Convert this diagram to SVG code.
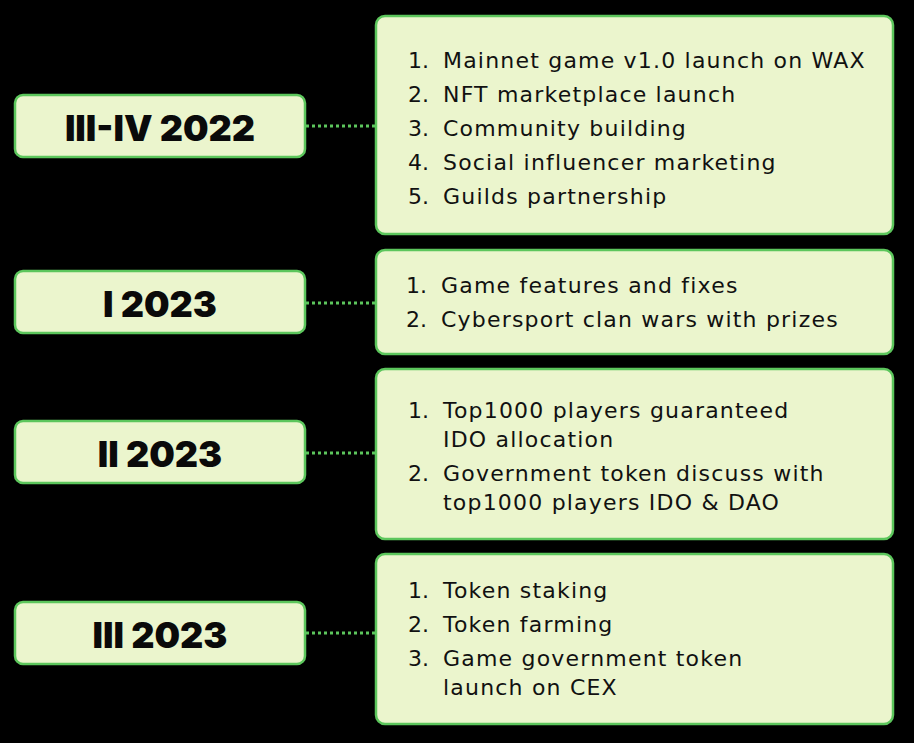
<svg xmlns="http://www.w3.org/2000/svg" width="914" height="743" viewBox="0 0 914 743">
  <style>
    .box { fill: #ebf5cd; stroke: #5cc65c; stroke-width: 2.5; }
    .title { font-family: Inter, "DejaVu Sans", sans-serif; font-weight: 900; font-size: 36px; fill: #0a0a0a; text-anchor: middle; }
    .item { font-family: "DejaVu Sans", "Noto Sans", sans-serif; font-size: 22px; letter-spacing: 1.2px; fill: #111; }
    .num { font-family: "DejaVu Sans", "Noto Sans", sans-serif; font-size: 22px; fill: #111; text-anchor: end; }
    .link { stroke: #5cc65c; stroke-width: 3; stroke-dasharray: 3 3; fill: none; }
  </style>
  <rect width="914" height="743" fill="#000"/>

  <g id="connectors">
    <line class="link" x1="306" y1="126" x2="376" y2="126"/>
    <line class="link" x1="306" y1="303" x2="376" y2="303"/>
    <line class="link" x1="306" y1="453" x2="376" y2="453"/>
    <line class="link" x1="306" y1="633" x2="376" y2="633"/>
  </g>

  <g id="period-2022-iii-iv">
    <rect class="box" x="15" y="95" width="290" height="62" rx="8"/>
    <text class="title" x="160" y="141">III-IV 2022</text>
  </g>
  <g id="period-2023-i">
    <rect class="box" x="15" y="271" width="290" height="62" rx="8"/>
    <text class="title" x="160" y="317">I 2023</text>
  </g>
  <g id="period-2023-ii">
    <rect class="box" x="15" y="421" width="290" height="62" rx="8"/>
    <text class="title" x="160" y="467">II 2023</text>
  </g>
  <g id="period-2023-iii">
    <rect class="box" x="15" y="602" width="290" height="62" rx="8"/>
    <text class="title" x="160" y="648">III 2023</text>
  </g>

  <g id="tasks-2022-iii-iv">
    <rect class="box" x="376" y="16" width="517" height="218" rx="9"/>
    <text class="num" x="429" y="68">1.</text><text class="item" x="443" y="68">Mainnet game v1.0 launch on WAX</text>
    <text class="num" x="429" y="102">2.</text><text class="item" x="443" y="102">NFT marketplace launch</text>
    <text class="num" x="429" y="136">3.</text><text class="item" x="443" y="136">Community building</text>
    <text class="num" x="429" y="170">4.</text><text class="item" x="443" y="170">Social influencer marketing</text>
    <text class="num" x="429" y="204">5.</text><text class="item" x="443" y="204">Guilds partnership</text>
  </g>
  <g id="tasks-2023-i">
    <rect class="box" x="376" y="250" width="517" height="104" rx="9"/>
    <text class="num" x="427" y="293">1.</text><text class="item" x="441" y="293">Game features and fixes</text>
    <text class="num" x="427" y="327">2.</text><text class="item" x="441" y="327">Cybersport clan wars with prizes</text>
  </g>
  <g id="tasks-2023-ii">
    <rect class="box" x="376" y="369" width="517" height="170" rx="9"/>
    <text class="num" x="429" y="418">1.</text><text class="item" x="443" y="418">Top1000 players guaranteed</text>
    <text class="item" x="443" y="447">IDO allocation</text>
    <text class="num" x="429" y="481">2.</text><text class="item" x="443" y="481">Government token discuss with</text>
    <text class="item" x="443" y="510">top1000 players IDO &amp; DAO</text>
  </g>
  <g id="tasks-2023-iii">
    <rect class="box" x="376" y="554" width="517" height="170" rx="9"/>
    <text class="num" x="429" y="598">1.</text><text class="item" x="443" y="598">Token staking</text>
    <text class="num" x="429" y="632">2.</text><text class="item" x="443" y="632">Token farming</text>
    <text class="num" x="429" y="666">3.</text><text class="item" x="443" y="666">Game government token</text>
    <text class="item" x="443" y="695">launch on CEX</text>
  </g>
</svg>
